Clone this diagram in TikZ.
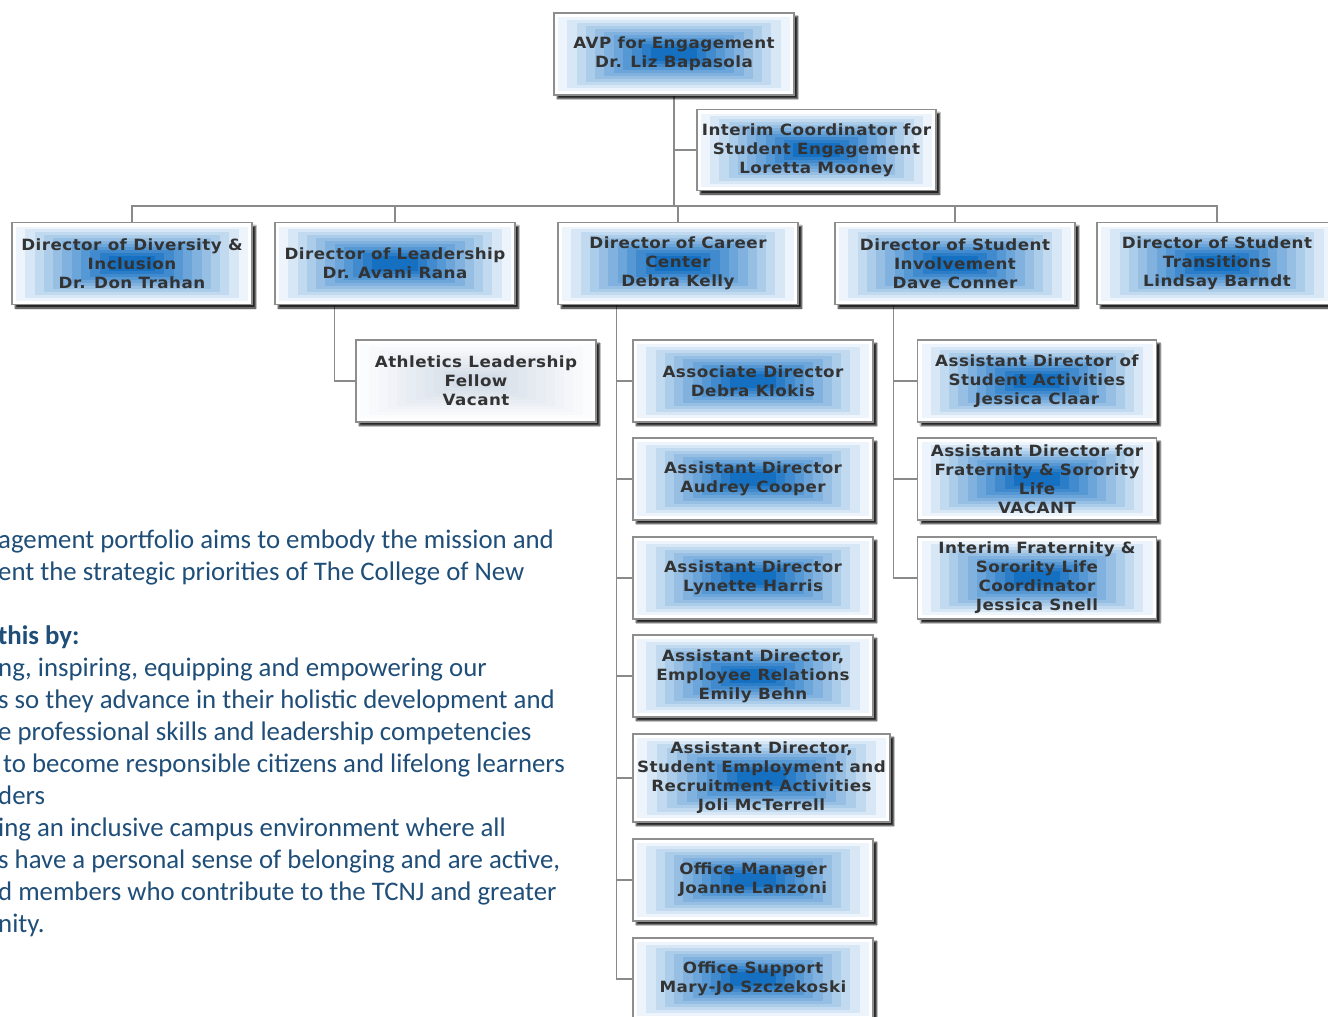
\documentclass[tikz,border=0pt]{standalone}
\usepackage{fontspec}
\setmainfont{DejaVu Sans}
\newfontfamily\boxfont[LetterSpace=3,FakeStretch=1.08]{DejaVu Sans}
\newfontfamily\bodyfont{Carlito}
\usetikzlibrary{shadows.blur,calc}

\definecolor{boxedge}{HTML}{8E8E8E}
\definecolor{linkgray}{HTML}{8A8A8A}
\definecolor{labelgray}{HTML}{333333}
\definecolor{bandlight}{HTML}{EDF4FB}
\definecolor{banddark}{HTML}{1570C2}
\definecolor{slatelight}{HTML}{FBFCFD}
\definecolor{slatedark}{HTML}{D5DEE8}
\definecolor{missionblue}{HTML}{1F4E79}

\pgfdeclarelayer{background}
\pgfsetlayers{background,main}

\tikzset{
  orgbox/.style n args={4}{% width, height, edge colour, centre colour
    rectangle, draw=boxedge, line width=1.3pt, fill=white,
    minimum width=#1pt, minimum height=#2pt, inner sep=0pt,
    align=center, text=labelgray,
    font={\boxfont\bfseries\fontsize{15.5}{19}\selectfont},
    blur shadow={shadow xshift=3.5pt, shadow yshift=-3.5pt,
      shadow blur radius=1.2pt, shadow blur steps=4, shadow opacity=85},
    path picture={
      \foreach \k in {0,...,10}{
        \pgfmathsetmacro\f{1-0.8*\k/10}
        \pgfmathtruncatemacro\p{100*\k/10}
        \pgfmathsetmacro\a{\f*(#1/2-4)}
        \pgfmathsetmacro\b{\f*(#2/2-4)}
        \fill[#4!\p!#3]
          ($(path picture bounding box.center)+(-\a pt,-\b pt)$) rectangle
          ($(path picture bounding box.center)+(\a pt,\b pt)$);
      }
    }
  },
  bluebox/.style 2 args={orgbox={#1}{#2}{bandlight}{banddark}},
  greybox/.style 2 args={orgbox={#1}{#2}{slatelight}{slatedark}},
  link/.style={draw=linkgray, line width=1.4pt},
}

\begin{document}
\begin{tikzpicture}[x=1pt, y=-1pt]
  \useasboundingbox (0,0) rectangle (1328,1017);
  \clip (0,0) rectangle (1328,1017);

  % top of the chart
  \node[bluebox={240}{82}] (avp) at (674,54) {AVP for Engagement\\Dr. Liz Bapasola};
  \node[bluebox={239}{81}] (interim) at (816.5,150) {Interim Coordinator for\\Student Engagement\\Loretta Mooney};

  % directors
  \node[bluebox={240}{82}] (div) at (132,263.5) {Director of Diversity \&\\Inclusion\\Dr. Don Trahan};
  \node[bluebox={240}{82}] (lead) at (395,263.5) {Director of Leadership\\Dr. Avani Rana};
  \node[bluebox={240}{82}] (career) at (678,263.5) {Director of Career\\Center\\Debra Kelly};
  \node[bluebox={240}{82}] (invol) at (955,263.5) {Director of Student\\Involvement\\Dave Conner};
  \node[bluebox={240}{82}] (trans) at (1217,263.5) {Director of Student\\Transitions\\Lindsay Barndt};

  % leadership
  \node[greybox={240}{82}] (ath) at (476,381) {Athletics Leadership\\Fellow\\Vacant};

  % career center staff
  \node[bluebox={240}{82}] (klokis) at (753,381) {Associate Director\\Debra Klokis};
  \node[bluebox={240}{82}] (cooper) at (753,479) {Assistant Director\\Audrey Cooper};
  \node[bluebox={240}{82}] (harris) at (753,578) {Assistant Director\\Lynette Harris};
  \node[bluebox={240}{82}] (behn) at (753,676) {Assistant Director,\\Employee Relations\\Emily Behn};
  \node[bluebox={257}{88}] (mcterrell) at (761.5,778) {Assistant Director,\\Student Employment and\\Recruitment Activities\\Joli McTerrell};
  \node[bluebox={240}{82}] (manager) at (753,880) {Office Manager\\Joanne Lanzoni};
  \node[bluebox={240}{82}] (support) at (753,979) {Office Support\\Mary-Jo Szczekoski};

  % student involvement staff
  \node[bluebox={239}{82}] (claar) at (1037,381) {Assistant Director of\\Student Activities\\Jessica Claar};
  \node[bluebox={239}{82}] (vacant) at (1037,479) {Assistant Director for\\Fraternity \& Sorority\\Life\\VACANT};
  \node[bluebox={239}{82}] (snell) at (1037,578) {Interim Fraternity \&\\Sorority Life\\Coordinator\\Jessica Snell};

  % mission statement
  \node[anchor=north west, inner sep=0pt, align=left, text=missionblue,
        font={\bodyfont\fontsize{26.8}{32}\selectfont}] (mission) at (-2,530)
    {agement portfolio aims to embody the mission and\\
     ent the strategic priorities of The College of New\\[32pt]
     \textbf{this by:}\\
     ng, inspiring, equipping and empowering our\\
     s so they advance in their holistic development and\\
     e professional skills and leadership competencies\\
     \hspace*{5pt}to become responsible citizens and lifelong learners\\
     ders\\
     ing an inclusive campus environment where all\\
     s have a personal sense of belonging and are active,\\
     d members who contribute to the TCNJ and greater\\
     nity.};

  % connectors
  \begin{pgfonlayer}{background}
    \fill[white] (0,0) rectangle (1328,1017);
    \coordinate (bus) at (674,206);
    \draw[link] (avp.south) -- (bus);
    \draw[link] (interim.west) -- (interim.west -| bus);
    \foreach \d in {div,lead,career,invol,trans}
      \draw[link] (\d.north) |- (bus);
    \draw[link] ([xshift=60pt]lead.south west) |- (ath.west);
    \coordinate (cspine) at ([xshift=59pt]career.south west);
    \foreach \c in {klokis,cooper,harris,behn,mcterrell,manager,support}
      \draw[link] (cspine) |- (\c.west);
    \coordinate (ispine) at ([xshift=59pt]invol.south west);
    \foreach \c in {claar,vacant,snell}
      \draw[link] (ispine) |- (\c.west);
  \end{pgfonlayer}
\end{tikzpicture}
\end{document}
